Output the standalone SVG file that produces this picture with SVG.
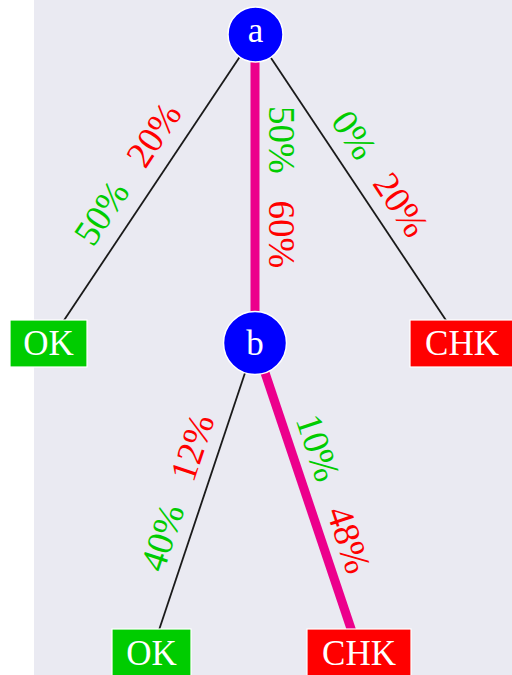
<svg xmlns="http://www.w3.org/2000/svg" width="512" height="675" viewBox="0 0 512 675">
  <style>
    .edge { stroke: #1a1a1a; stroke-width: 1.8; fill: none; }
    .hot { stroke: #ec008c; stroke-width: 9; fill: none; }
    .circ { fill: #0000ff; stroke: #ffffff; stroke-width: 1.5; }
    .ok { fill: #00cc00; stroke: #ffffff; stroke-width: 1.2; }
    .chk { fill: #ff0000; stroke: #ffffff; stroke-width: 1.2; }
    text { font-family: "Liberation Serif", "DejaVu Serif", serif; text-anchor: middle; }
    .lbl { fill: #ffffff; font-size: 35px; }
    .g { fill: #00cc00; font-size: 37px; }
    .r { fill: #ff0000; font-size: 37px; }
  </style>

  <!-- panel background -->
  <rect x="0" y="0" width="512" height="675" fill="#ffffff"/>
  <rect x="34" y="0" width="478" height="675" fill="#eaeaf2"/>

  <!-- connectors with their probability labels -->
  <g id="connectors">
    <line class="edge" x1="255" y1="34" x2="48.5" y2="343.5"/>
    <line class="hot" x1="255" y1="34" x2="255" y2="343"/>
    <line class="edge" x1="255" y1="34" x2="461.5" y2="343.5"/>
    <line class="edge" x1="255" y1="343" x2="151.5" y2="652.5"/>
    <line class="hot" x1="255" y1="343" x2="359" y2="652.5"/>

    <g transform="translate(177.3,150.5) rotate(-56.3)"><text class="r" y="-16">20%</text></g>
    <g transform="translate(125.1,228.7) rotate(-56.3)"><text class="g" y="-16">50%</text></g>

    <g transform="translate(255,140) rotate(90)"><text class="g" y="-14">50%</text></g>
    <g transform="translate(255,234.5) rotate(90)"><text class="r" y="-14">60%</text></g>

    <g transform="translate(332.1,149.6) rotate(56.3)"><text class="g" y="-14">0%</text></g>
    <g transform="translate(378.8,219.5) rotate(56.3)"><text class="r" y="-14">20%</text></g>

    <g transform="translate(217.3,455.8) rotate(-71.5)"><text class="r" y="-14">12%</text></g>
    <g transform="translate(187.2,545.9) rotate(-71.5)"><text class="g" y="-14">40%</text></g>

    <g transform="translate(293,456.2) rotate(71.5)"><text class="g" y="-14">10%</text></g>
    <g transform="translate(323.8,548.2) rotate(71.5)"><text class="r" y="-14">48%</text></g>
  </g>

  <!-- decision nodes -->
  <g id="node-a">
    <circle class="circ" cx="255.5" cy="34.5" r="27.5"/>
    <text class="lbl" x="255.5" y="42">a</text>
  </g>
  <g id="node-b">
    <circle class="circ" cx="255" cy="343" r="31.5"/>
    <text class="lbl" x="255" y="355">b</text>
  </g>

  <!-- outcome leaves -->
  <g id="leaf-ok-1">
    <rect class="ok" x="10" y="320" width="77" height="47"/>
    <text class="lbl" x="48.5" y="355">OK</text>
  </g>
  <g id="leaf-chk-1">
    <rect class="chk" x="410" y="320" width="104" height="47"/>
    <text class="lbl" x="462" y="355">CHK</text>
  </g>
  <g id="leaf-ok-2">
    <rect class="ok" x="112" y="629" width="79" height="47"/>
    <text class="lbl" x="151.5" y="665">OK</text>
  </g>
  <g id="leaf-chk-2">
    <rect class="chk" x="307" y="629" width="104" height="47"/>
    <text class="lbl" x="359" y="665">CHK</text>
  </g>
</svg>
